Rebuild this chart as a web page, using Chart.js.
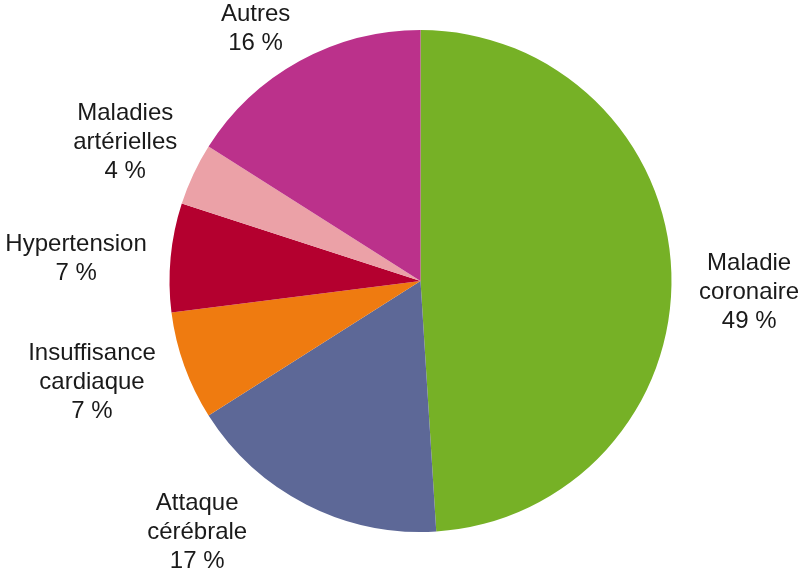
<!DOCTYPE html>
<html>
<head>
<meta charset="utf-8">
<script src="https://cdn.jsdelivr.net/npm/chart.js@4/dist/chart.umd.min.js"></script>
<style>
  html, body { margin: 0; padding: 0; background: #fff; }
  #wrap { width: 800px; height: 578px; }
</style>
</head>
<body>
<div id="wrap"><canvas id="myChart"></canvas></div>
<script>
// data, clockwise from 12 o'clock
const categories = [
    ['Maladie', 'coronaire'],
    ['Attaque', 'cérébrale'],
    ['Insuffisance', 'cardiaque'],
    ['Hypertension'],
    ['Maladies', 'artérielles'],
    ['Autres']
];
const shares = [49, 17, 7, 7, 4, 16];
const colors = ['#76b126', '#5d6897', '#ef7b10', '#b4002f', '#eba1a7', '#bb318b'];

// label placement: angle nudge (deg) and distance as a factor of the radius
const labelNudge = [3.7, 14.6, 2.6, -1.8, 0, -4.4];
const labelDist = [1.31, 1.34, 1.37, 1.375, 1.30, 1.20];

const sliceLabels = {
    id: 'sliceLabels',
    afterDraw(chart) {
        const ctx = chart.ctx;
        const arcs = chart.getDatasetMeta(0).data;
        ctx.save();
        ctx.font = '24px "Liberation Sans", Arial, sans-serif';
        ctx.fillStyle = '#1a1a1a';
        ctx.textAlign = 'center';
        ctx.textBaseline = 'middle';
        const lineH = 29;
        arcs.forEach(function(arc, i){
            const mid = (arc.startAngle + arc.endAngle) / 2 + labelNudge[i] * Math.PI / 180;
            const d = arc.outerRadius * labelDist[i];
            const cx = arc.x + Math.cos(mid) * d;
            const cy = arc.y + Math.sin(mid) * d;
            const lines = categories[i].concat([shares[i] + ' %']);
            const top = cy - (lines.length - 1) * lineH / 2;
            lines.forEach(function(t, k){
                ctx.fillText(t, cx, top + k * lineH);
            });
        });
        ctx.restore();
    }
};

let ctx = document.getElementById('myChart').getContext('2d');
let myChart = new Chart(ctx, {
    type: 'pie',
    data: {
        labels: categories.map(function(c){ return c.join(' '); }),
        datasets: [{
            data: shares,
            backgroundColor: colors,
            borderWidth: 0
        }]
    },
    options: {
        responsive: true,
        maintainAspectRatio: false,
        animation: false,
        layout: { padding: { left: 169, right: 128, top: 30, bottom: 46 } },
        plugins: {
            legend: { display: false },
            tooltip: { enabled: false }
        }
    },
    plugins: [sliceLabels]
});
</script>
</body>
</html>
